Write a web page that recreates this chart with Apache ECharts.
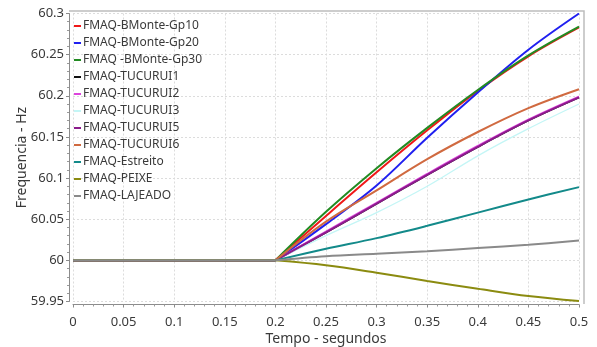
<!DOCTYPE html>
<html>
<head>
<meta charset="utf-8">
<script src="https://cdn.jsdelivr.net/npm/echarts@6/dist/echarts.min.js"></script>
<style>
  html, body { margin: 0; padding: 0; background: #fff; }
  #chart { width: 597px; height: 347px; }
</style>
</head>
<body>
<div id="chart"></div>
<script>
// Time samples (s)
const tempo = [0, 0.05, 0.1, 0.15, 0.2, 0.25, 0.3, 0.35, 0.4, 0.45, 0.5];

// Machine frequency per generator (Hz)
const gp10     = [60, 60, 60, 60, 60, 60.054, 60.107, 60.158, 60.206, 60.248, 60.283];
const gp20     = [60, 60, 60, 60, 60, 60.044, 60.091, 60.149, 60.204, 60.256, 60.300];
const gp30     = [60, 60, 60, 60, 60, 60.059, 60.112, 60.161, 60.207, 60.249, 60.284];
const tucurui1 = [60, 60, 60, 60, 60, 60.034, 60.069, 60.104, 60.138, 60.170, 60.198];
const tucurui2 = [60, 60, 60, 60, 60, 60.035, 60.070, 60.105, 60.139, 60.171, 60.199];
const tucurui3 = [60, 60, 60, 60, 60, 60.030, 60.058, 60.090, 60.127, 60.160, 60.190];
const tucurui5 = [60, 60, 60, 60, 60, 60.034, 60.069, 60.104, 60.138, 60.170, 60.198];
const tucurui6 = [60, 60, 60, 60, 60, 60.047, 60.085, 60.123, 60.156, 60.185, 60.208];
const estreito = [60, 60, 60, 60, 60, 60.014, 60.027, 60.042, 60.058, 60.074, 60.089];
const peixe    = [60, 60, 60, 60, 60, 59.994, 59.985, 59.975, 59.9655, 59.9566, 59.9505];
const lajeado  = [60, 60, 60, 60, 60, 60.005, 60.008, 60.011, 60.015, 60.019, 60.024];

const seriesNames = [
  'FMAQ-BMonte-Gp10', 'FMAQ-BMonte-Gp20', 'FMAQ -BMonte-Gp30',
  'FMAQ-TUCURUI1', 'FMAQ-TUCURUI2', 'FMAQ-TUCURUI3', 'FMAQ-TUCURUI5',
  'FMAQ-TUCURUI6', 'FMAQ-Estreito', 'FMAQ-PEIXE', 'FMAQ-LAJEADO'
];
const seriesValues = [gp10, gp20, gp30, tucurui1, tucurui2, tucurui3, tucurui5,
                      tucurui6, estreito, peixe, lajeado];
const seriesColors = ['#F01818', '#2020F0', '#228B22', '#111111', '#DD44DD', '#C4F6F6',
                      '#8B1C8B', '#D06A40', '#138A8A', '#8B8B10', '#8A8A8A'];
const seriesWidths = [2, 2, 2, 2, 2, 1.3, 2, 2, 2, 2, 2];

// Index of the disturbance instant (t = 0.2 s): steady state before, transient after
const EVENT_IDX = 4;

const yTicks = { min: 59.95, max: 60.3, step: 0.05 };
const xTicks = { min: 0, max: 0.5, step: 0.05 };

const FONT = 'Noto Sans';
const TEXT = '#3a3a3a';
const fmt = v => String(Number(v.toFixed(2)));

const chart = echarts.init(document.getElementById('chart'));

const pairs = (vals, from, to) => tempo.slice(from, to).map((t, k) => [t, vals[from + k]]);

// Each generator: a straight steady-state segment plus a smoothed transient;
// both share the series name so they share one legend entry.
const series = [];
seriesNames.forEach((name, i) => {
  const style = { color: seriesColors[i], width: seriesWidths[i] };
  series.push({
    name, type: 'line', symbol: 'none', smooth: false,
    data: pairs(seriesValues[i], 0, EVENT_IDX + 1),
    lineStyle: style, itemStyle: { color: seriesColors[i] }, z: 2
  });
  series.push({
    name, type: 'line', symbol: 'none', smooth: 0.35,
    data: pairs(seriesValues[i], EVENT_IDX, tempo.length),
    lineStyle: style, itemStyle: { color: seriesColors[i] }, z: 2
  });
});

chart.setOption({
  backgroundColor: '#fff',
  animation: false,
  grid: { left: 73, right: 18, top: 13.5, bottom: 45.5, outerBoundsMode: 'none', containLabel: false },
  legend: {
    orient: 'vertical',
    left: 74,
    top: 19,
    padding: 0,
    icon: 'rect',
    itemWidth: 7,
    itemHeight: 2,
    itemGap: 3,
    textStyle: { fontFamily: FONT, fontSize: 12, color: TEXT, lineHeight: 14, padding: [0, 0, 0, -3] },
    data: seriesNames
  },
  xAxis: {
    type: 'value',
    min: xTicks.min, max: xTicks.max, interval: xTicks.step,
    offset: 3,
    name: 'Tempo - segundos',
    nameLocation: 'middle',
    nameGap: 28,
    nameMoveOverlap: false,
    nameTextStyle: { fontFamily: FONT, fontSize: 14, color: TEXT },
    axisLine: { show: true, onZero: false, lineStyle: { color: '#8c8c8c', width: 1 } },
    axisTick: { show: true, length: 3, lineStyle: { color: '#8c8c8c' } },
    minorTick: { show: true, splitNumber: 5, length: 2, lineStyle: { color: '#9a9a9a' } },
    axisLabel: { fontFamily: FONT, fontSize: 13, color: TEXT, margin: 11, formatter: fmt },
    splitLine: { show: true, lineStyle: { color: '#dcdcdc', type: [2, 2], width: 1 } }
  },
  yAxis: {
    type: 'value',
    min: yTicks.min, max: yTicks.max, interval: yTicks.step,
    offset: 4,
    name: 'Frequencia - Hz',
    nameLocation: 'middle',
    nameGap: 40,
    nameMoveOverlap: false,
    nameRotate: 90,
    nameTextStyle: { fontFamily: FONT, fontSize: 14, color: TEXT },
    axisLine: { show: true, onZero: false, lineStyle: { color: '#8c8c8c', width: 1 } },
    axisTick: { show: true, length: 3, lineStyle: { color: '#8c8c8c' } },
    minorTick: { show: true, splitNumber: 5, length: 2, lineStyle: { color: '#9a9a9a' } },
    axisLabel: { fontFamily: FONT, fontSize: 13, color: TEXT, margin: 5, formatter: fmt },
    splitLine: { show: true, lineStyle: { color: '#dcdcdc', type: [2, 2], width: 1 } }
  },
  graphic: [
    {
      type: 'polyline',
      silent: true,
      shape: { points: [[69, 11], [584, 11], [584, 304]] },
      style: { stroke: '#bdbdbd', lineWidth: 1.5, fill: null }
    }
  ],
  series
});
</script>
</body>
</html>
